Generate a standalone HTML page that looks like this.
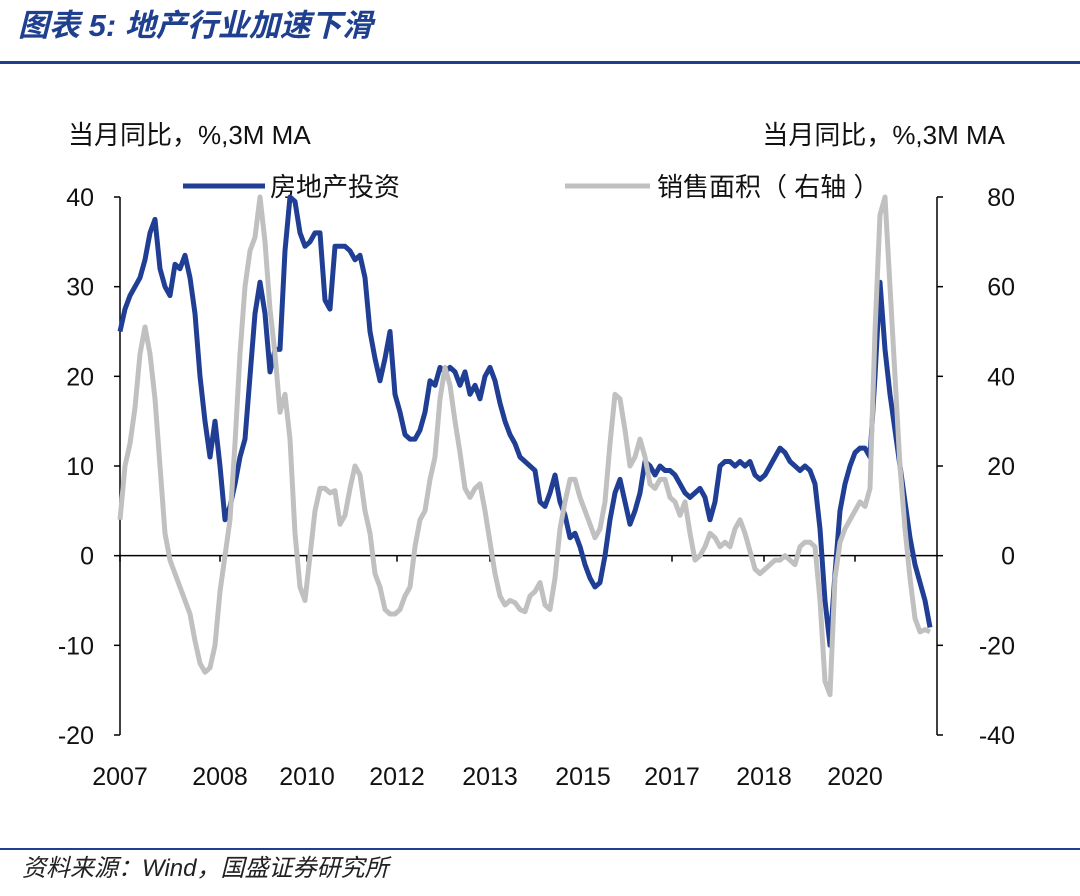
<!DOCTYPE html>
<html><head><meta charset="utf-8"><style>
body{margin:0;background:#fff;width:1080px;height:891px;overflow:hidden;font-family:"Liberation Sans","Noto Sans CJK SC",sans-serif}
</style></head><body>
<svg width="1080" height="891" xmlns="http://www.w3.org/2000/svg" font-family="Liberation Sans, Noto Sans CJK SC, sans-serif">
<text x="18" y="36" font-size="31" font-weight="bold" font-style="italic" fill="#1f3f8f">图表 5:  地产行业加速下滑</text>
<rect x="0" y="61" width="1080" height="3" fill="#1f3f8f"/>
<text x="68" y="144" font-size="26" fill="#111">当月同比，%,3M MA</text>
<text x="1005" y="144" font-size="26" fill="#111" text-anchor="end">当月同比，%,3M MA</text>
<g>
<line x1="183" y1="186" x2="265" y2="186" stroke="#203f94" stroke-width="5"/>
<text x="270" y="196" font-size="26" fill="#111">房地产投资</text>
<line x1="565" y1="186" x2="650" y2="186" stroke="#c0c0c0" stroke-width="5"/>
<text x="657" y="196" font-size="26" fill="#111">销售面积（ 右轴 ）</text>
</g>
<g id="axes"></g>
<g id="series"></g>
<rect x="0" y="848" width="1080" height="2" fill="#1f3f8f"/>
<text x="22" y="876" font-size="24" font-style="italic" fill="#222">资料来源：Wind，国盛证券研究所</text>
</svg>
<script>
const blueVals=[25,27.5,29,30,31,33,36,37.5,32,30,
29,32.5,32,33.5,31,27,20,15,11,15,
10,4,5.5,8,11,13,20,27,30.5,27,
20.5,23,23,34,40,39.5,36,34.5,35,36,
36,28.5,27.5,34.5,34.5,34.5,34,33,33.5,31,
25,22,19.5,22,25,18,16,13.5,13,13,14,16,19.5,19,21,20.5,21,20.5,19,20.5,18,19,17.5,20,21,19.5,17,15,13.5,12.5,11,10.5,10,9.5,6,5.5,7,9,6,4.5,2,2.5,1,-1,-2.5,-3.5,-3,0,4,7,8.5,6,3.5,5,7,10.5,10,9,10,9.5,9.5,9,8,7,6.5,7,7.5,6.5,4,6,10,10.5,10.5,10,10.5,10,10.5,9,8.5,9,10,11,12,11.5,10.5,10,9.5,10,9.5,8,3,-5,-10,-2,5,8,10,11.5,12,12,11,20,30.5,23,18,14,10,6,2,-1,-3,-5,-8];
const grayVals=[8,20,25,33,45,51,45,35,20,5,
-1,-4,-7,-10,-13,-19,-24,-26,-25,-20,
-8,0,8,25,45,60,68,71,80,70,
55,45,32,36,26,5,-7,-10,0,10,
15,15,14,14.5,7,9,15,20,18,10,
5,-4,-7,-12,-13,-13,-12,-9,-7,2,
8,10,17,22,35,42,38,30,23,15,
13,15,16,10,3,-4,-9,-11,-10,-10.5,
-12,-12.5,-9,-8,-6,-11,-12,-5,6,12,
17,17,13,10,7,4,6,12,25,36,
35,28,20,22,26,22,16,15,17,17,
13,12,9,12,5,-1,0,2,5,4,
2,3,2,6,8,5,1,-3,-4,-3,
-2,-1,-1,0,-1,-2,2,3,3,2,
-10,-28,-31,-5,3,6,8,10,12,11,
15,50,76,80,60,40,20,6,-5,-14,
-17,-16.5,-17];
const xLabels=["2007","2008","2010","2012","2013","2015","2017","2018","2020"];
const xLabelIdx=[0,20,37.4,55.4,74,92.6,110.4,128.8,147];
const leftTicks=[40,30,20,10,0,-10,-20];
const rightTicks=[80,60,40,20,0,-20,-40];
const NS="http://www.w3.org/2000/svg";
const X0=120,X1=930,YT=197,YB=735;
const NPTS=Math.max(blueVals.length,grayVals.length);
const xs=i=>X0+(X1-X0)*i/(NPTS-1);
const yl=v=>YT+(40-v)*(YB-YT)/60;
const yr=v=>YT+(80-v)*(YB-YT)/120;
function mk(tag,attrs,parent){const e=document.createElementNS(NS,tag);for(const k in attrs)e.setAttribute(k,attrs[k]);parent.appendChild(e);return e;}
const ax=document.getElementById('axes'),sg=document.getElementById('series');
let e;
e=mk('line',{x1:X0,y1:YT,x2:X0,y2:YB,stroke:'#000','stroke-width':1.5},ax);


e=mk('line',{x1:937,y1:YT,x2:937,y2:YB,stroke:'#000','stroke-width':1.5},ax);


e=mk('line',{x1:X0,y1:yl(0),x2:937,y2:yl(0),stroke:'#000','stroke-width':1.5},ax);


leftTicks.forEach(v=>{
 mk('line',{x1:X0-6,y1:yl(v),x2:X0,y2:yl(v),stroke:'#000','stroke-width':1.5},ax);
 e=mk('text',{x:94,y:yl(v)+9,'font-size':25,'text-anchor':'end',fill:'#111'},ax);e.textContent=v;
 
 
});
rightTicks.forEach(v=>{
 mk('line',{x1:937,y1:yr(v),x2:943,y2:yr(v),stroke:'#000','stroke-width':1.5},ax);
 e=mk('text',{x:1015,y:yr(v)+9,'font-size':25,'text-anchor':'end',fill:'#111'},ax);e.textContent=v;
 
 
});
xLabels.forEach((l,k)=>{
 const x=xs(xLabelIdx[k]);
 mk('line',{x1:x,y1:yl(0),x2:x,y2:yl(0)+6,stroke:'#000','stroke-width':1.5},ax);
 e=mk('text',{x:x,y:785,'font-size':25,'text-anchor':'middle',fill:'#111'},ax);e.textContent=l;
 
 
});
e=mk('path',{d:blueVals.map((v,i)=>(i?'L':'M')+xs(i).toFixed(1)+','+yl(v).toFixed(1)).join(''),fill:'none',stroke:'#203f94','stroke-width':5,'stroke-linejoin':'round'},sg);


e=mk('path',{d:grayVals.map((v,i)=>(i?'L':'M')+xs(i).toFixed(1)+','+yr(v).toFixed(1)).join(''),fill:'none',stroke:'#c0c0c0','stroke-width':5,'stroke-linejoin':'round'},sg);


</script>
</body></html>
